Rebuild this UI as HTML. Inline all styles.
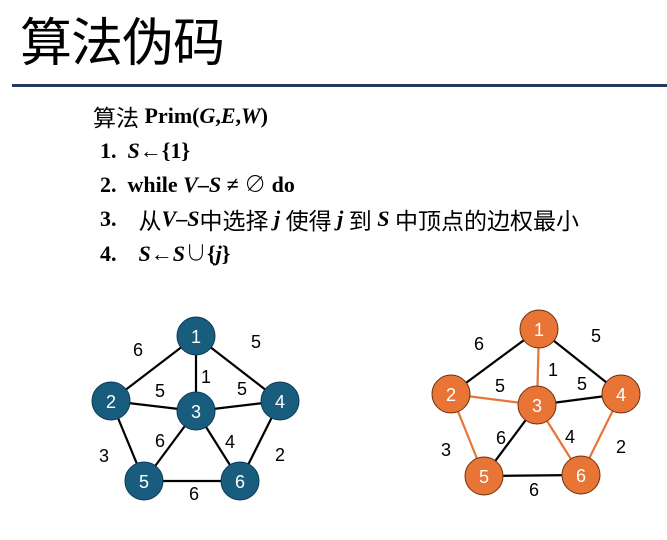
<!DOCTYPE html>
<html><head><meta charset="utf-8"><style>
body{margin:0;width:667px;height:540px;background:#fff;position:relative;overflow:hidden;font-family:"Liberation Serif","Noto Serif CJK SC",serif}
.t{position:absolute;left:20px;top:13px;font:52px/1.2 "Liberation Sans","Noto Sans CJK SC",sans-serif;color:#000;letter-spacing:-1px}
.hr{position:absolute;left:12px;top:84px;width:655px;height:3px;background:#1f3864}
.l{position:absolute;font-size:22px;line-height:26px;font-weight:bold;white-space:nowrap;color:#000}
.c{font-family:"Noto Sans CJK SC",sans-serif;font-weight:normal;font-size:23px;line-height:26px;vertical-align:top}
</style></head><body>
<div class="t">算法伪码</div>
<div class="hr"></div>
<div class="l" style="left:93px;top:103px"><span class="c">算法</span> Prim(<i>G</i>,<i>E</i>,<i>W</i>)</div>
<div class="l" style="left:100px;top:138px">1.&nbsp; <i>S</i>←{1}</div>
<div class="l" style="left:100px;top:172px">2.&nbsp; while <i>V</i>–<i>S</i> ≠ ∅ do</div>
<div class="l" style="left:100px;top:206px">3.&nbsp;&nbsp;&nbsp; <span class="c">从</span><i>V</i>–<i>S</i><span class="c">中选择</span> <i>j</i> <span class="c">使得</span> <i>j</i> <span class="c">到</span> <i>S</i> <span class="c">中顶点的边权最小</span></div>
<div class="l" style="left:100px;top:241px">4.&nbsp;&nbsp;&nbsp; <i>S</i>←<i>S</i>∪{<i>j</i>}</div>
<svg width="667" height="540" style="position:absolute;left:0;top:0" font-family="Liberation Sans,sans-serif" font-size="18">
<g stroke="#000" stroke-width="2.2">
<line x1="196" y1="336" x2="111" y2="401"/><line x1="196" y1="336" x2="280" y2="401"/><line x1="196" y1="336" x2="196" y2="411"/>
<line x1="111" y1="401" x2="196" y2="411"/><line x1="280" y1="401" x2="196" y2="411"/><line x1="111" y1="401" x2="144" y2="481"/>
<line x1="196" y1="411" x2="144" y2="481"/><line x1="196" y1="411" x2="240" y2="481"/><line x1="280" y1="401" x2="240" y2="481"/><line x1="144" y1="481" x2="240" y2="481"/>
<line x1="539" y1="329" x2="451" y2="394"/><line x1="539" y1="329" x2="621" y2="394"/><line x1="621" y1="394" x2="537" y2="405"/>
<line x1="537" y1="405" x2="484" y2="476"/><line x1="484" y1="476" x2="581" y2="475"/>
</g>
<g stroke="#e87435" stroke-width="2.2">
<line x1="539" y1="329" x2="537" y2="405"/><line x1="451" y1="394" x2="537" y2="405"/><line x1="451" y1="394" x2="484" y2="476"/>
<line x1="537" y1="405" x2="581" y2="475"/><line x1="621" y1="394" x2="581" y2="475"/>
</g>
<g fill="#185c7e" stroke="#0e3a52" stroke-width="1">
<circle cx="196" cy="336" r="19"/><circle cx="111" cy="401" r="19"/><circle cx="196" cy="411" r="19"/><circle cx="280" cy="401" r="19"/><circle cx="144" cy="481" r="19"/><circle cx="240" cy="481" r="19"/>
</g>
<g fill="#e87435" stroke="#6b3210" stroke-width="1">
<circle cx="539" cy="329" r="19"/><circle cx="451" cy="394" r="19"/><circle cx="537" cy="405" r="19"/><circle cx="621" cy="394" r="19"/><circle cx="484" cy="476" r="19"/><circle cx="581" cy="475" r="19"/>
</g>
<g fill="#fff" text-anchor="middle">
<text x="196" y="343">1</text><text x="111" y="408">2</text><text x="196" y="418">3</text><text x="280" y="408">4</text><text x="144" y="488">5</text><text x="240" y="488">6</text>
<text x="539" y="336">1</text><text x="451" y="401">2</text><text x="537" y="412">3</text><text x="621" y="401">4</text><text x="484" y="483">5</text><text x="581" y="482">6</text>
</g>
<g fill="#000" text-anchor="middle">
<text x="138" y="356">6</text><text x="256" y="348">5</text><text x="206" y="383">1</text><text x="160" y="397">5</text><text x="242" y="395">5</text><text x="160" y="447">6</text><text x="230" y="448">4</text><text x="104" y="462">3</text><text x="280" y="461">2</text><text x="194" y="500">6</text>
<text x="479" y="350">6</text><text x="596" y="342">5</text><text x="553" y="376">1</text><text x="500" y="392">5</text><text x="582" y="390">5</text><text x="501" y="444">6</text><text x="570" y="443">4</text><text x="446" y="456">3</text><text x="621" y="453">2</text><text x="534" y="496">6</text>
</g>
</svg>
</body></html>
